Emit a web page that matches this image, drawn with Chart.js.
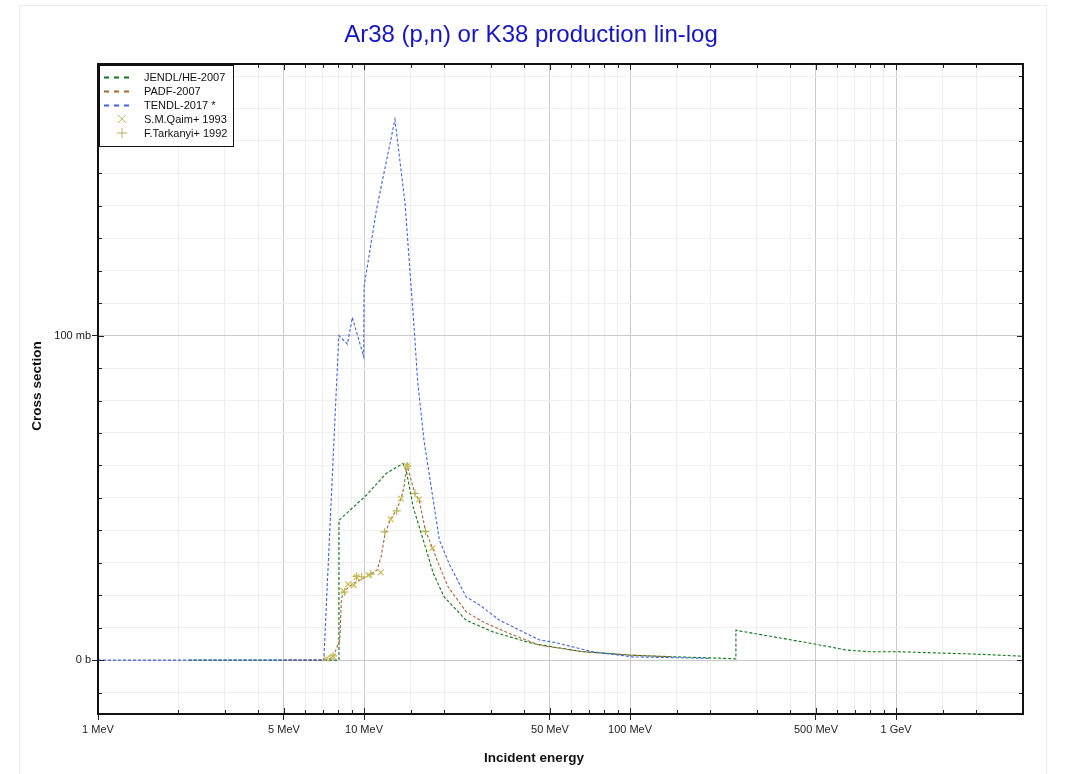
<!DOCTYPE html>
<html>
<head>
<meta charset="utf-8">
<title>Ar38 (p,n) or K38 production lin-log</title>
<script src="https://cdn.jsdelivr.net/npm/chart.js@4.4.1/dist/chart.umd.min.js"></script>
<style>
  html, body { margin: 0; padding: 0; background: #fff; }
  #holder { width: 1071px; height: 774px; }
</style>
</head>
<body>
<div id="holder"><canvas id="chart" width="1071" height="774"></canvas></div>
<script>
// energies in MeV, cross sections in mb
const jendlE  = [2.2, 8.05, 8.05, 10.2, 12.1, 14.0, 14.4, 15.3, 16.7, 18.2, 20.0, 24.2, 30.5, 43.1, 66.4, 102, 150, 200, 250, 250, 500, 650, 800, 1000, 2000, 3000];
const jendlXS = [0, 0, 43.1, 50.8, 57.5, 60.6, 58.6, 47.2, 37.0, 26.8, 19.5, 12.3, 8.7, 5.1, 2.6, 1.5, 1.0, 0.7, 0.4, 9.2, 4.9, 3.1, 2.6, 2.6, 1.85, 1.2];

const padfE  = [5.0, 7.22, 7.65, 8.11, 8.22, 8.34, 9.09, 10.5, 11.2, 11.6, 12.0, 12.6, 13.3, 13.8, 14.1, 14.5, 15.5, 16.1, 17.0, 18.1, 19.2, 20.7, 24.2, 28.0, 35.2, 45.7, 66.4, 102, 144];
const padfXS = [0, 0, 1.0, 6.2, 18.5, 21.0, 23.6, 26.2, 27.8, 32.0, 39.0, 43.5, 46.5, 50.0, 53.0, 60.1, 51.5, 49.5, 40.0, 34.5, 29.0, 22.6, 14.9, 11.8, 8.2, 4.6, 2.6, 1.5, 1.0];

const tendlE  = [1, 7.06, 8.04, 8.66, 9.04, 9.97, 10.0, 11.13, 13.07, 14.26, 15.5, 15.9, 16.8, 19.2, 21.0, 24.2, 27.2, 32.3, 45.7, 51.1, 72.3, 102, 182, 200];
const tendlXS = [0, 0, 100, 97.4, 105.6, 93.5, 115, 138.7, 166.6, 140.8, 100, 86, 67.8, 37.0, 29.3, 19.5, 17.0, 12.3, 6.2, 5.6, 2.6, 1.0, 0.6, 0.5];

const qaimE  = [7.22, 7.65, 8.38, 8.71, 9.15, 9.37, 10.4, 11.55, 12.6, 13.77, 14.53, 16.09, 18.1];
const qaimXS = [0.5, 1.1, 21.3, 23.4, 23.1, 25.6, 26.2, 27.0, 43.4, 49.8, 59.8, 49.5, 34.5];

const tarkE  = [7.65, 8.45, 9.37, 9.80, 10.6, 11.96, 13.27, 14.53, 15.54, 17.0];
const tarkXS = [1.3, 21.0, 25.8, 25.7, 26.5, 39.5, 46.0, 59.8, 51.4, 39.7];

const xMin = 1, xMax = 3000;
const yMin = -16.6, yMax = 183.7;
const xTickValues = [1, 5, 10, 50, 100, 500, 1000];
const xTickLabels = ['1 MeV', '5 MeV', '10 MeV', '50 MeV', '100 MeV', '500 MeV', '1 GeV'];
const yTickValues = [0, 100];
const yTickLabels = ['0 b', '100 mb'];

const FONT = '"Liberation Sans", Arial, Helvetica, sans-serif';

function toPoints(xs, ys) {
  return xs.map((x, i) => ({ x: x, y: ys[i] }));
}

function labelFor(v, values, labels) {
  for (let i = 0; i < values.length; i++) {
    if (Math.abs(v - values[i]) < 1e-6 * Math.max(1, Math.abs(values[i]))) return labels[i];
  }
  return '';
}

function lineSet(label, xs, ys, color, order) {
  return {
    label: label,
    data: toPoints(xs, ys),
    borderColor: color,
    backgroundColor: color,
    borderWidth: 1.1,
    borderDash: [3, 2],
    pointRadius: 0,
    tension: 0,
    fill: false,
    order: order
  };
}

function pointSet(label, xs, ys, style, color) {
  return {
    label: label,
    data: toPoints(xs, ys),
    showLine: false,
    pointStyle: style,
    pointRadius: 4,
    pointBorderWidth: 1.2,
    borderColor: color,
    backgroundColor: color,
    order: 0
  };
}

const frame = {
  id: 'frame',
  beforeDraw(chart) {
    const c = chart.ctx;
    c.save();
    c.fillStyle = '#fff';
    c.fillRect(0, 0, chart.width, chart.height);
    c.strokeStyle = '#ececec';
    c.lineWidth = 1;
    c.strokeRect(19.5, 5.5, 1027, 800);
    c.restore();
  },
  afterDraw(chart) {
    const c = chart.ctx, a = chart.chartArea;
    const xs = chart.scales.x, ys = chart.scales.y;
    c.save();
    c.strokeStyle = '#222';
    c.lineWidth = 1;
    function seg(x1, y1, x2, y2) {
      c.beginPath(); c.moveTo(x1, y1); c.lineTo(x2, y2); c.stroke();
    }
    // inner tick marks on all four sides
    xs.ticks.forEach(t => {
      const px = Math.round(xs.getPixelForValue(t.value)) + 0.5;
      const len = t.label ? 6 : 4;
      seg(px, a.bottom, px, a.bottom - len);
      seg(px, a.top, px, a.top + len);
    });
    ys.ticks.forEach(t => {
      const py = Math.round(ys.getPixelForValue(t.value)) + 0.5;
      const len = t.label ? 6 : 4;
      seg(a.left, py, a.left + len, py);
      seg(a.right, py, a.right - len, py);
    });
    c.lineWidth = 2;
    c.strokeStyle = '#111';
    c.strokeRect(a.left, a.top, a.right - a.left, a.bottom - a.top);

    // title
    c.fillStyle = '#1414c8';
    c.font = '24px ' + FONT;
    c.textAlign = 'center';
    c.textBaseline = 'middle';
    c.fillText('Ar38 (p,n) or K38 production lin-log', 531, 35);

    // axis titles
    c.fillStyle = '#111';
    c.font = 'bold 13.5px ' + FONT;
    c.fillText('Incident energy', 534, 758);
    c.save();
    c.translate(37, (a.top + a.bottom) / 2 - 3);
    c.rotate(-Math.PI / 2);
    c.fillText('Cross section', 0, 0);
    c.restore();

    // legend
    const lx = a.left + 1, ly = a.top + 1;
    c.fillStyle = '#fff';
    c.fillRect(lx, ly, 134, 81);
    c.lineWidth = 1;
    c.strokeStyle = '#111';
    c.strokeRect(lx + 0.5, ly + 0.5, 134, 81);
    c.font = '11px ' + FONT;
    c.textAlign = 'left';
    chart.data.datasets.forEach((ds, i) => {
      const y = ly + 12 + i * 14;
      if (ds.showLine === false) {
        c.strokeStyle = ds.borderColor;
        c.lineWidth = 1;
        c.setLineDash([]);
        const cx = lx + 23, r = 4;
        if (ds.pointStyle === 'crossRot') {
          seg(cx - r, y - r, cx + r, y + r);
          seg(cx - r, y + r, cx + r, y - r);
        } else {
          seg(cx - r - 1, y, cx + r + 1, y);
          seg(cx, y - r - 1, cx, y + r + 1);
        }
      } else {
        c.strokeStyle = ds.borderColor;
        c.lineWidth = 2;
        c.setLineDash([5, 5]);
        seg(lx + 5, y + 0.5, lx + 33, y + 0.5);
        c.setLineDash([]);
      }
      c.fillStyle = '#111';
      c.fillText(ds.label, lx + 45, y + 1);
    });
    c.restore();
  }
};

new Chart(document.getElementById('chart'), {
  type: 'line',
  data: {
    datasets: [
      lineSet('JENDL/HE-2007', jendlE, jendlXS, 'rgb(10,120,20)', 3),
      lineSet('PADF-2007', padfE, padfXS, 'rgb(170,100,50)', 2),
      lineSet('TENDL-2017 *', tendlE, tendlXS, 'rgb(60,100,230)', 1),
      pointSet('S.M.Qaim+ 1993', qaimE, qaimXS, 'crossRot', 'rgb(200,190,80)'),
      pointSet('F.Tarkanyi+ 1992', tarkE, tarkXS, 'cross', 'rgb(185,180,90)')
    ]
  },
  options: {
    responsive: false,
    animation: false,
    devicePixelRatio: 1,
    layout: { padding: { top: 64, left: 0, right: 48, bottom: 0 } },
    plugins: {
      legend: { display: false },
      title: { display: false },
      tooltip: { enabled: false }
    },
    scales: {
      x: {
        type: 'logarithmic',
        min: xMin,
        max: xMax,
        afterFit(scale) { scale.height = 60; },
        border: { display: false },
        grid: {
          color: ctx => labelFor(ctx.tick.value, xTickValues, xTickLabels) ? '#cacaca' : '#efefef',
          tickColor: ctx => labelFor(ctx.tick.value, xTickValues, xTickLabels) ? '#222' : 'rgba(0,0,0,0)',
          tickLength: 6,
          lineWidth: 1
        },
        ticks: {
          autoSkip: false,
          maxRotation: 0,
          minRotation: 0,
          padding: 3,
          color: '#222',
          font: { family: FONT, size: 11 },
          callback: v => labelFor(v, xTickValues, xTickLabels)
        }
      },
      y: {
        type: 'linear',
        min: yMin,
        max: yMax,
        afterFit(scale) { scale.width = 98; },
        border: { display: false },
        grid: {
          color: ctx => labelFor(ctx.tick.value, yTickValues, yTickLabels) ? '#cacaca' : '#f0f0f0',
          tickColor: ctx => labelFor(ctx.tick.value, yTickValues, yTickLabels) ? '#222' : 'rgba(0,0,0,0)',
          tickLength: 6,
          lineWidth: 1
        },
        ticks: {
          stepSize: 10,
          includeBounds: false,
          autoSkip: false,
          padding: 1,
          color: '#222',
          font: { family: FONT, size: 11 },
          callback: v => labelFor(v, yTickValues, yTickLabels)
        }
      }
    }
  },
  plugins: [frame]
});
</script>
</body>
</html>
